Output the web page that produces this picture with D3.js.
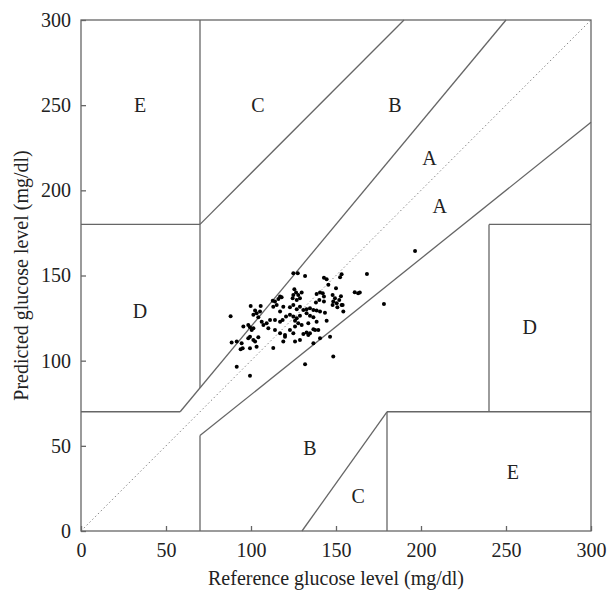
<!DOCTYPE html>
<html>
<head>
<meta charset="utf-8">
<script src="https://cdn.jsdelivr.net/npm/d3@7"></script>
<style>
  body { margin: 0; background: #fff; }
  text { font-family: "Liberation Serif", "Times New Roman", serif; fill: #222; }
</style>
</head>
<body>
<div class="chart"></div>
<script>
// reference vs predicted glucose (mg/dl)
const refValues = [124.9,127.5,131.8,142.9,144.5,153.3,152.4,150.0,125.5,126.5,124.9,127.8,128.8,126.9,124.5,129.8,
  138.6,140.6,142.2,142.9,140.2,138.2,142.9,148.0,149.4,148.4,150.4,151.9,153.3,148.0,150.8,154.3,145.5,
  117.1,116.1,112.8,114.1,118.0,113.1,115.1,119.0,117.1,99.8,105.7,102.4,103.3,105.3,101.4,104.3,88.0,
  95.5,98.4,99.4,101.4,100.4,106.3,107.3,109.2,111.2,110.2,114.1,117.1,118.6,120.6,122.9,124.9,126.9,128.8,
  125.9,127.8,130.8,132.7,134.7,136.7,138.6,140.6,143.5,132.7,134.7,136.7,122.9,124.9,126.9,128.8,
  114.1,117.1,120.0,122.9,125.9,129.8,133.7,138.6,132.7,134.7,136.7,137.7,139.6,144.5,146.5,
  124.9,125.9,128.8,130.8,133.7,88.6,91.6,94.5,95.1,93.9,98.4,99.4,101.4,99.4,102.4,103.3,104.3,
  113.1,119.0,120.0,136.7,140.6,148.4,131.8,91.6,99.4,196.5,168.2,161.0,163.0,164.0,178.2,152.9,153.9];
const predValues = [151.3,151.3,149.7,148.7,147.8,150.7,149.0,142.5,141.9,140.0,138.6,138.6,136.6,135.6,136.6,140.0,
  139.2,140.0,139.6,137.6,135.6,134.1,134.7,138.6,136.6,134.7,133.7,135.6,132.7,132.7,131.3,128.8,144.5,
  137.6,136.2,135.2,134.7,137.2,131.7,132.7,131.7,128.8,132.1,132.1,129.4,127.8,128.8,126.9,125.5,126.1,
  120.0,121.0,119.6,119.0,118.0,122.9,121.0,121.9,123.9,119.0,123.9,122.9,123.9,125.9,126.9,125.9,124.9,126.3,
  123.5,121.9,129.8,130.2,130.7,129.8,129.4,128.8,128.2,127.8,126.3,125.5,131.3,132.7,130.2,131.7,
  118.0,116.1,115.1,118.0,120.0,121.0,121.9,122.9,116.5,116.1,118.4,118.0,118.0,123.5,114.1,
  116.1,111.2,112.2,115.7,115.1,110.6,111.2,110.2,107.3,106.7,113.1,114.1,112.2,107.3,111.2,108.2,113.7,
  107.5,111.2,114.1,110.2,113.1,102.4,97.9,96.5,91.2,164.4,150.9,140.2,139.6,140.0,133.3,137.8,132.7];

const tickValues = [0, 50, 100, 150, 200, 250, 300];

// zone boundary segments [x1, y1, x2, y2]
const zoneLines = [
  [0, 70, 175 / 3, 70], [175 / 3, 70, 250, 300], [70, 84, 70, 300],
  [0, 180, 70, 180], [70, 180, 190, 300], [70, 0, 70, 56], [70, 56, 300, 240],
  [180, 0, 180, 70], [180, 70, 300, 70], [240, 70, 240, 180], [240, 180, 300, 180],
  [130, 0, 180, 70]
];
const zoneLabels = ["E", "C", "B", "A", "A", "D", "D", "B", "C", "E"];
const zoneLabelX = [34.7, 104, 184.7, 205, 211, 34.7, 264, 134.7, 163, 254];
const zoneLabelY = [250, 250, 250, 219, 191, 129, 120, 49, 20.5, 34.6];

const margin = {top: 20, right: 21, bottom: 64, left: 81};
const outWidth = 612, outHeight = 595;
const width = outWidth - margin.left - margin.right,
      height = outHeight - margin.top - margin.bottom;

const svg = d3.select(".chart").append("svg")
  .attr("width", outWidth)
  .attr("height", outHeight);

const g = svg.append("g")
  .attr("transform", `translate(${margin.left}, ${margin.top})`);

const xScale = d3.scaleLinear().domain([0, 300]).range([0, width]);
const yScale = d3.scaleLinear().domain([0, 300]).range([height, 0]);

const lineColor = "#666";

// diagonal y = x
g.append("line")
  .attr("x1", xScale(0)).attr("y1", yScale(0))
  .attr("x2", xScale(300)).attr("y2", yScale(300))
  .attr("stroke", "#888")
  .attr("stroke-width", 1)
  .attr("stroke-dasharray", "1.5,2.5");

g.selectAll(".zone")
  .data(zoneLines)
  .enter()
  .append("line")
  .attr("class", "zone")
  .attr("x1", d => xScale(d[0]))
  .attr("y1", d => yScale(d[1]))
  .attr("x2", d => xScale(d[2]))
  .attr("y2", d => yScale(d[3]))
  .attr("stroke", lineColor)
  .attr("stroke-width", 1.3);

g.selectAll(".zlabel")
  .data(zoneLabels)
  .enter()
  .append("text")
  .attr("class", "zlabel")
  .attr("x", (d, i) => xScale(zoneLabelX[i]))
  .attr("y", (d, i) => yScale(zoneLabelY[i]))
  .attr("dy", "0.35em")
  .attr("text-anchor", "middle")
  .attr("font-size", 20)
  .text(d => d);

g.selectAll("circle")
  .data(refValues)
  .enter()
  .append("circle")
  .attr("cx", d => xScale(d))
  .attr("cy", (d, i) => yScale(predValues[i]))
  .attr("r", 2)
  .attr("fill", "#000");

// frame
g.append("rect")
  .attr("width", width)
  .attr("height", height)
  .attr("fill", "none")
  .attr("stroke", lineColor)
  .attr("stroke-width", 1.3);

const xAxis = d3.axisBottom(xScale).tickValues(tickValues).tickSizeInner(-5).tickSizeOuter(0).tickPadding(12);
const yAxis = d3.axisLeft(yScale).tickValues(tickValues).tickSizeInner(-5).tickSizeOuter(0).tickPadding(10);

g.append("g")
  .attr("class", "axis x-axis")
  .attr("transform", `translate(0, ${height})`)
  .call(xAxis);

g.append("g")
  .attr("class", "axis y-axis")
  .call(yAxis);

g.selectAll(".axis .domain").remove();
g.selectAll(".axis line").attr("stroke", lineColor).attr("stroke-width", 1.3);
g.selectAll(".axis text")
  .attr("font-family", "'Liberation Serif', serif")
  .attr("font-size", 20)
  .attr("fill", "#222");

svg.append("text")
  .attr("x", margin.left + width / 2)
  .attr("y", 585)
  .attr("text-anchor", "middle")
  .attr("font-size", 20)
  .text("Reference glucose level (mg/dl)");

svg.append("text")
  .attr("transform", `translate(28, ${margin.top + height / 2}) rotate(-90)`)
  .attr("text-anchor", "middle")
  .attr("font-size", 20)
  .text("Predicted glucose level (mg/dl)");
</script>
</body>
</html>
